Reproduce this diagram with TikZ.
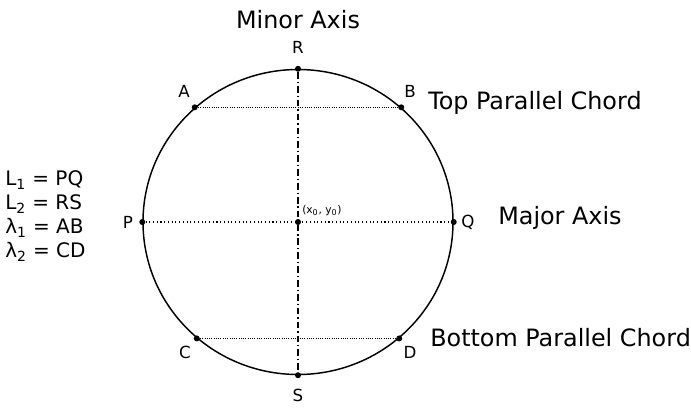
\documentclass[tikz,border=0pt]{standalone}
\usepackage{fontspec}
\setmainfont{DejaVu Sans}
\usetikzlibrary{shapes.geometric,positioning}

\begin{document}
\begin{tikzpicture}[
    x=0.75pt,y=-0.75pt,
    ring/.style={draw,ellipse,line width=1.1pt,inner sep=0pt,minimum width=232.5pt,minimum height=228.75pt},
    dot/.style={circle,fill,inner sep=0pt,minimum size=4.5pt},
    ptlabel/.style={font=\fontsize{12.5}{14}\selectfont,inner sep=0pt},
    caption/.style={font=\fontsize{17.9}{21}\selectfont,inner sep=0pt,anchor=west},
    defn/.style={font=\fontsize{15}{17}\selectfont,inner sep=0pt,anchor=west},
    chord/.style={densely dotted,line width=0.7pt},
    majaxis/.style={dotted,line width=0.8pt},
    minaxis/.style={dash pattern=on 5pt off 2.2pt on 1pt off 2.2pt,line width=0.8pt}
  ]
    \useasboundingbox (0,0) rectangle (691,407);
    \node[ring] (circ) at (298,222) {};
    % points on the circle
    \node[dot] (R) at (circ.north) {};
    \node[dot] (S) at (circ.south) {};
    \node[dot] (P) at (circ.west) {};
    \node[dot] (Q) at (circ.east) {};
    \node[dot] (A) at (circ.132) {};
    \node[dot] (B) at (circ.48) {};
    \node[dot] (C) at (circ.229) {};
    \node[dot] (D) at (circ.311) {};
    \node[dot] (O) at (circ.center) {};
    % axes and chords
    \draw[minaxis] (R) -- (S);
    \draw[majaxis] (P) -- (Q);
    \draw[chord] (A) -- (B);
    \draw[chord] (C) -- (D);
    % point labels
    \node[ptlabel] (labR) at (298,47) {R};
    \node[ptlabel] (labS) at (298,395) {S};
    \node[ptlabel] (labP) at (128,222) {P};
    \node[ptlabel] (labQ) at (468,222) {Q};
    \node[ptlabel] (labA) at (184,91) {A};
    \node[ptlabel] (labB) at (410,91) {B};
    \node[ptlabel] (labC) at (185,352) {C};
    \node[ptlabel] (labD) at (410,352) {D};
    \node[font=\fontsize{8}{9}\selectfont,inner sep=0pt,anchor=south west] (labO) at (302,216) {(x\textsubscript{0}, y\textsubscript{0})};
    % captions
    \node[caption,anchor=center] (minor) at (298,20) {Minor Axis};
    \node[caption] (top) at (428,103) {Top Parallel Chord};
    \node[caption] (major) at (498,218) {Major Axis};
    \node[caption] (bottom) at (430,338) {Bottom Parallel Chord};
    % definitions
    \node[defn] (def1) at (5,180) {L\textsubscript{1} = PQ};
    \node[defn] (def2) at (5,204) {L\textsubscript{2} = RS};
    \node[defn] (def3) at (5,228) {λ\textsubscript{1} = AB};
    \node[defn] (def4) at (5,252) {λ\textsubscript{2} = CD};
  \end{tikzpicture}
\end{document}
